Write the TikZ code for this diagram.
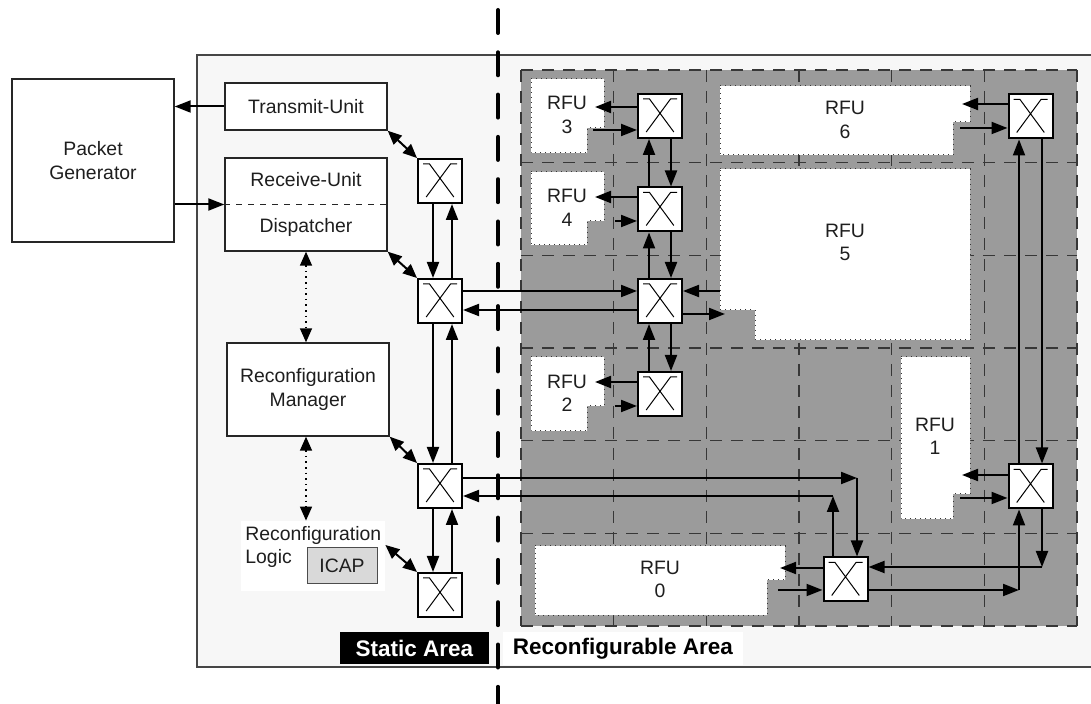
\documentclass[tikz,border=0pt]{standalone}
\usepackage{fontspec}
\setmainfont{Liberation Sans}
\usetikzlibrary{arrows.meta}
\definecolor{bgbox}{RGB}{247,247,247}
\definecolor{areagray}{RGB}{155,155,155}
\definecolor{gridline}{RGB}{55,55,55}
\definecolor{icapgray}{RGB}{217,217,217}
\definecolor{framegray}{RGB}{70,70,70}
\definecolor{txt}{RGB}{30,30,30}
\begin{document}
\begin{tikzpicture}[x=0.5pt,y=-0.5pt,
  font=\fontsize{9.7}{11.8}\selectfont, text=txt,
  arr/.style={line width=1pt, -{Triangle[length=8pt,width=6pt]}},
  darr/.style={line width=1pt, {Triangle[length=7pt,width=6pt]}-{Triangle[length=7pt,width=6pt]}},
  dotarr/.style={line width=0.8pt, dotted, {Triangle[length=7pt,width=6pt]}-{Triangle[length=7pt,width=6pt]}},
  block/.style={draw=black!85, line width=0.7pt, fill=white, align=center, inner sep=0pt},
  switch/.style={draw=black, line width=1pt, fill=white, minimum size=22pt, inner sep=0pt,
    path picture={\draw[line width=0.5pt, shift={(path picture bounding box.center)}]
      (-17,-17) -- (-10.5,-17) -- (13.8,16)
      (17,-17) -- (10.5,-17) -- (-13.8,16);}},
  rfu/.style={fill=white, draw=gridline, dotted, line width=0.5pt},
  rfulabel/.style={align=center, inner sep=0pt},
  gridstyle/.style={draw=gridline, line width=0.6pt, dash pattern=on 6pt off 4.5pt},
  boldlabel/.style={font=\fontsize{11.25}{13}\selectfont\bfseries, inner sep=0pt}
]
\useasboundingbox (0,0) rectangle (1091,704);

% background boxes
\fill[bgbox] (197,55) rectangle (1095,667);
\draw[framegray, line width=1pt] (1095,55) -- (197,55) -- (197,667) -- (1095,667);

% reconfigurable area
\fill[areagray] (521,70) rectangle (1077,626);
\foreach \i in {0,...,6} {
  \draw[gridstyle] ({521+92.667*\i},70) -- ({521+92.667*\i},626);
  \draw[gridstyle] (521,{70+92.667*\i}) -- (1077,{70+92.667*\i});
}

% RFUs
\draw[rfu] (531,79) -- (604,79) -- (604,128) -- (587,128) -- (587,153) -- (531,153) -- cycle;
\node[rfulabel] (rfu3) at (567,115) {RFU\\3};
\draw[rfu] (531,172) -- (604,172) -- (604,221) -- (587,221) -- (587,245) -- (531,245) -- cycle;
\node[rfulabel] (rfu4) at (567,208) {RFU\\4};
\draw[rfu] (531,357) -- (604,357) -- (604,406) -- (587,406) -- (587,431) -- (531,431) -- cycle;
\node[rfulabel] (rfu2) at (567,393.5) {RFU\\2};
\draw[rfu] (720,169) -- (970,169) -- (970,340) -- (755,340) -- (755,310) -- (720,310) -- cycle;
\node[rfulabel] (rfu5) at (845,242.5) {RFU\\5};
\draw[rfu] (720,86) -- (970,86) -- (970,122) -- (953,122) -- (953,155) -- (720,155) -- cycle;
\node[rfulabel] (rfu6) at (845,120) {RFU\\6};
\draw[rfu] (901,357) -- (970,357) -- (970,494) -- (953,494) -- (953,519) -- (901,519) -- cycle;
\node[rfulabel] (rfu1) at (935,436.5) {RFU\\1};
\draw[rfu] (535,546) -- (785,546) -- (785,580) -- (767,580) -- (767,615) -- (535,615) -- cycle;
\node[rfulabel] (rfu0) at (660,579.5) {RFU\\0};

% ports
\coordinate (r3in) at (595,107); \coordinate (r3out) at (593,130);
\coordinate (r4in) at (595,197); \coordinate (r4out) at (615,221);
\coordinate (r2in) at (595,382); \coordinate (r2out) at (615,406);
\coordinate (r5out) at (720,291); \coordinate (r5in) at (725,314);
\coordinate (r6in) at (962,104); \coordinate (r6out) at (960,128);
\coordinate (r1in) at (962,475); \coordinate (r1out) at (960,498);
\coordinate (r0in) at (780,568); \coordinate (r0out) at (778,590);

% static blocks
\node[block, minimum width=81pt, minimum height=81.5pt] (PG) at (93,160.5) {Packet\\Generator};
\node[block, minimum width=81pt, minimum height=23.5pt] (TU) at (306,106.5) {Transmit-Unit};
\node[block, minimum width=81pt, minimum height=46.5pt] (RU) at (306,204.5) {};
\draw[dashed, line width=0.5pt, black!85] (RU.west) -- (RU.east);
\node[inner sep=0pt] (rutext) at (306,180) {Receive-Unit};
\node[inner sep=0pt] (disptext) at (306,227) {Dispatcher};
\node[block, minimum width=81pt, minimum height=46.5pt] (RM) at (308,389.5) {Reconfiguration\\Manager};
\node[fill=white, minimum width=72pt, minimum height=35pt, inner sep=0pt] (RL) at (313,556) {};
\node[anchor=west, inner sep=0pt] (rltext1) at (245,535) {Reconfiguration};
\node[anchor=west, inner sep=0pt] (rltext2) at (245,558) {Logic};
\node[draw=black!70, line width=0.5pt, fill=icapgray, minimum width=35pt, minimum height=18pt, inner sep=0pt] (ICAP) at (342,566) {ICAP};

% switches
\node[switch] (A1) at (440,181) {};
\node[switch] (A2) at (440,301) {};
\node[switch] (A3) at (440,486) {};
\node[switch] (A4) at (440,595) {};
\node[switch] (S3) at (660,116) {};
\node[switch] (S4) at (660,209.5) {};
\node[switch] (S5) at (660,301) {};
\node[switch] (S2) at (660,394) {};
\node[switch] (S6) at (1030.5,116.5) {};
\node[switch] (S1) at (1030.5,486.5) {};
\node[switch] (S0) at (845.5,579.5) {};

% static connections
\draw[arr] (TU.west) -- (TU.west -| PG.east);
\draw[arr] (PG.east |- RU.west) -- (RU.west);
\draw[darr] (TU.south east) -- (A1.north west);
\draw[darr] (RU.south east) -- (A2.north west);
\draw[darr] (RM.south east) -- (A3.north west);
\draw[darr] (RL.east |- 0,545) -- (A4.north west);
\draw[dotarr] (RU.south) -- (RU.south |- RM.north);
\draw[dotarr] (RU.south |- RM.south) -- (RU.south |- RL.north);

\draw[arr] (433,0 |- A1.south) -- (433,0 |- A2.north);
\draw[arr] (452,0 |- A2.north) -- (452,0 |- A1.south);
\draw[arr] (433,0 |- A2.south) -- (433,0 |- A3.north);
\draw[arr] (452,0 |- A3.north) -- (452,0 |- A2.south);
\draw[arr] (433,0 |- A3.south) -- (433,0 |- A4.north);
\draw[arr] (452,0 |- A4.north) -- (452,0 |- A3.south);

% static <-> reconfigurable
\draw[arr] (A2.east |- 0,291) -- (S5.west |- 0,291);
\draw[arr] (S5.west |- 0,310) -- (A2.east |- 0,310);
\coordinate (c1) at (857,478);
\coordinate (c2) at (833,496);
\draw[arr] (A3.east |- c1) -- (c1);
\draw[arr] (c1) -- (c1 |- S0.north);
\draw[arr] (c2 |- S0.north) -- (c2);
\draw[arr] (c2) -- (A3.east |- c2);

% RFU ports
\draw[arr] (S3.west |- r3in) -- (r3in);
\draw[arr] (r3out) -- (S3.west |- r3out);
\draw[arr] (S4.west |- r4in) -- (r4in);
\draw[arr] (r4out) -- (S4.west |- r4out);
\draw[arr] (S2.west |- r2in) -- (r2in);
\draw[arr] (r2out) -- (S2.west |- r2out);
\draw[arr] (r5out) -- (S5.east |- r5out);
\draw[arr] (S5.east |- r5in) -- (r5in);
\draw[arr] (S6.west |- r6in) -- (r6in);
\draw[arr] (r6out) -- (S6.west |- r6out);
\draw[arr] (S1.west |- r1in) -- (r1in);
\draw[arr] (r1out) -- (S1.west |- r1out);
\draw[arr] (S0.west |- r0in) -- (r0in);
\draw[arr] (r0out) -- (S0.west |- r0out);

% vertical chain in column
\draw[arr] (649,0 |- S4.north) -- (649,0 |- S3.south);
\draw[arr] (671,0 |- S3.south) -- (671,0 |- S4.north);
\draw[arr] (649,0 |- S5.north) -- (649,0 |- S4.south);
\draw[arr] (671,0 |- S4.south) -- (671,0 |- S5.north);
\draw[arr] (649,0 |- S2.north) -- (649,0 |- S5.south);
\draw[arr] (671,0 |- S5.south) -- (671,0 |- S2.north);

% right ring
\draw[arr] (1019,0 |- S1.north) -- (1019,0 |- S6.south);
\draw[arr] (1042,0 |- S6.south) -- (1042,0 |- S1.north);
\coordinate (c3) at (1042,567);
\coordinate (c4) at (1019,590);
\draw[arr] (S1.south -| c3) -- (c3);
\draw[arr] (c3) -- (S0.east |- c3);
\draw[arr] (S0.east |- c4) -- (c4);
\draw[arr] (c4) -- (S1.south -| c4);

% area labels
\node[boldlabel, fill=black, text=white, minimum width=74.5pt, minimum height=16pt] (static) at (414.5,648) {Static Area};
\node[boldlabel, fill=white, text=black, minimum width=120pt, minimum height=16.5pt] (reconf) at (623,648.5) {Reconfigurable Area};

% separation line
\coordinate (sepTop) at (498,10);
\coordinate (sepBot) at (498,704);
\draw[line width=2pt, line cap=round, dash pattern=on 11.5pt off 9.65pt] (sepTop) -- (sepBot);
\end{tikzpicture}
\end{document}
